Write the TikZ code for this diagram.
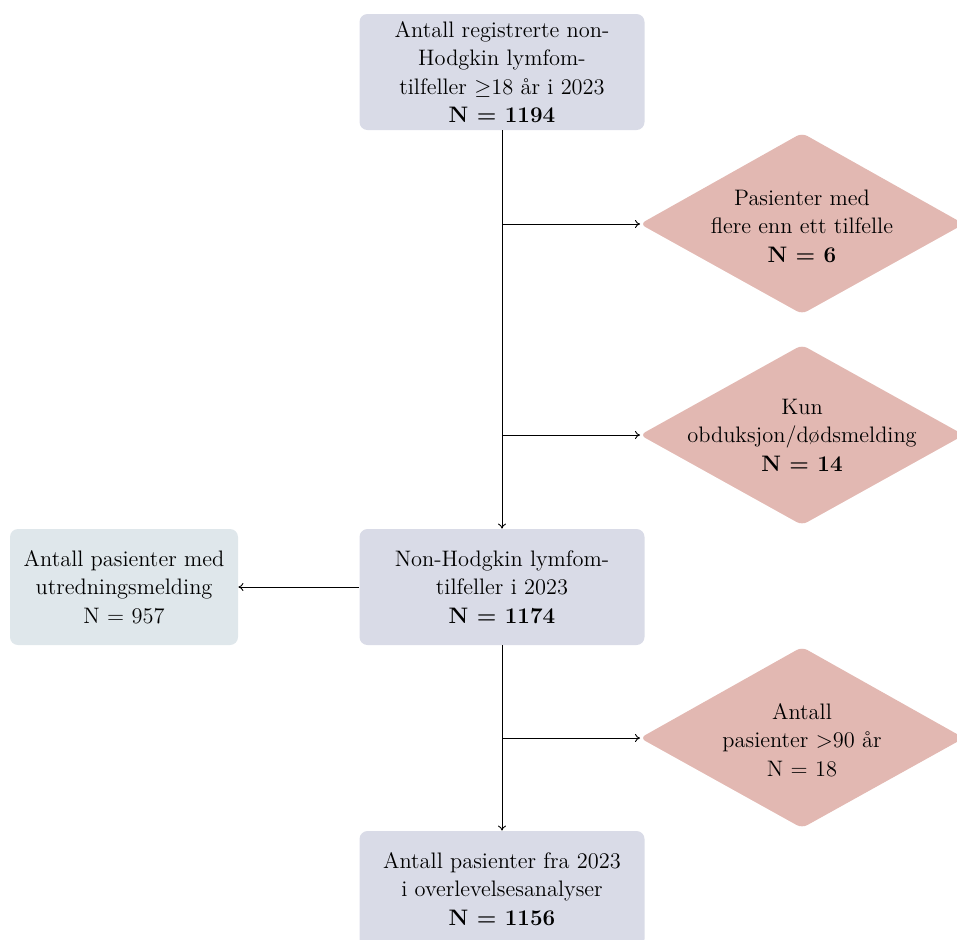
\documentclass[tikz,border=0pt]{standalone}
\usetikzlibrary{arrows.meta,calc}
\definecolor{boxc}{HTML}{D9DBE7}
\definecolor{diac}{HTML}{E2B8B2}
\definecolor{leftc}{HTML}{DFE7EB}
\begin{document}
\begin{tikzpicture}[x=0.5pt,y=-0.5pt,
  txt/.style={align=center, font=\fontsize{11.2}{14.2}\selectfont},
  box/.style={txt, fill=boxc, rounded corners=4pt, minimum width=142.5pt, minimum height=58pt, inner sep=0pt},
  lbox/.style={box, fill=leftc, minimum width=114pt},
  diashape/.style={fill=diac, rounded corners=3pt},
  conn/.style={-{To[length=2.5pt,width=4pt]}, line width=0.45pt}]
\useasboundingbox (0,0) rectangle (957,939);
% boxes
\node[box] (A) at (502,72) {Antall registrerte non-\\Hodgkin lymfom-\\tilfeller $\geq$18 år i 2023\\\textbf{N = 1194}};
\node[box] (B) at (502,587) {Non-Hodgkin lymfom-\\tilfeller i 2023\\\textbf{N = 1174}};
\node[box] (C) at (502,889) {Antall pasienter fra 2023\\i overlevelsesanalyser\\\textbf{N = 1156}};
\node[lbox] (L) at (124,587) {Antall pasienter med\\utredningsmelding\\N = 957};
% diamonds
\fill[diashape] (640,224) coordinate (d1w) -- (802,133) -- (964,224) -- (802,314) -- cycle;
\node[txt] (d1) at (802,226) {Pasienter med\\flere enn ett tilfelle\\\textbf{N = 6}};
\fill[diashape] (640,435) coordinate (d2w) -- (802,345) -- (964,435) -- (802,525) -- cycle;
\node[txt] (d2) at (802,435) {Kun\\obduksjon/dødsmelding\\\textbf{N = 14}};
\fill[diashape] (640,738) coordinate (d3w) -- (802,647) -- (964,738) -- (802,828) -- cycle;
\node[txt] (d3) at (802,740) {Antall\\pasienter $>$90 år\\N = 18};
% connectors
\draw[conn] (A.south) -- (B.north);
\draw[conn] (B.south) -- (C.north);
\coordinate (j1) at (502,224);
\coordinate (j2) at (502,435);
\coordinate (j3) at (502,738);
\draw[conn] (j1) -- (d1w);
\draw[conn] (j2) -- (d2w);
\draw[conn] (j3) -- (d3w);
\draw[conn] (B.west) -- (L.east);
\end{tikzpicture}
\end{document}
